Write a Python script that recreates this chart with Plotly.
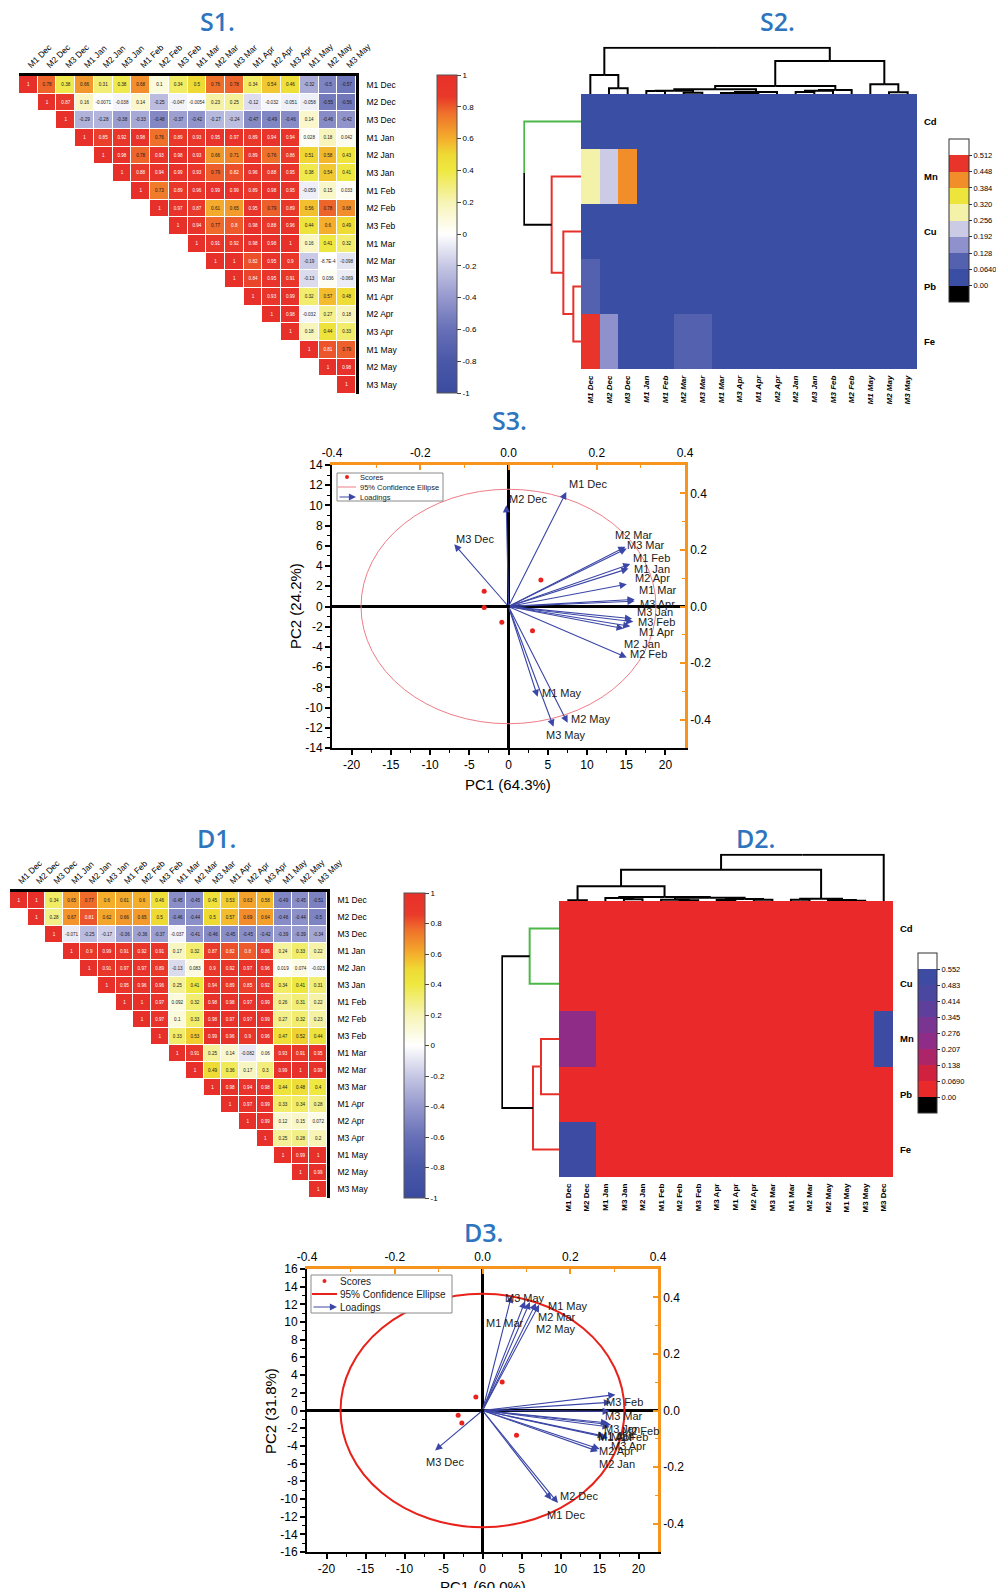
import plotly.graph_objects as go

W, H = 1004, 1596          # browser window
OFF = 8                    # default page (body) margin around the plot div
FW, FH = W - 2 * OFF, H - 2 * OFF
FONT = "Arial, Liberation Sans, sans-serif"
TFONT = "Open Sans, Lato, sans-serif"

# ======================= DATA =======================
months = ["M1 Dec", "M2 Dec", "M3 Dec", "M1 Jan", "M2 Jan", "M3 Jan", "M1 Feb", "M2 Feb", "M3 Feb",
          "M1 Mar", "M2 Mar", "M3 Mar", "M1 Apr", "M2 Apr", "M3 Apr", "M1 May", "M2 May", "M3 May"]

# upper-triangle rows (row i starts at column i)
s1_corr_rows = [
    [1, 0.78, 0.38, 0.66, 0.31, 0.38, 0.68, 0.1, 0.34, 0.5, 0.76, 0.78, 0.34, 0.54, 0.46, -0.32, -0.5, -0.57],
    [1, 0.87, 0.16, -0.0071, -0.038, 0.14, -0.25, -0.047, -0.0054, 0.23, 0.25, -0.12, -0.032, -0.051, -0.058, -0.55, -0.56],
    [1, -0.29, -0.28, -0.38, -0.33, -0.48, -0.37, -0.42, -0.27, -0.24, -0.47, -0.49, -0.46, 0.14, -0.46, -0.42],
    [1, 0.85, 0.92, 0.98, 0.76, 0.89, 0.93, 0.95, 0.97, 0.89, 0.94, 0.94, 0.028, 0.18, 0.042],
    [1, 0.98, 0.78, 0.93, 0.98, 0.93, 0.66, 0.71, 0.89, 0.76, 0.86, 0.51, 0.58, 0.43],
    [1, 0.88, 0.94, 0.99, 0.93, 0.79, 0.82, 0.96, 0.88, 0.95, 0.38, 0.54, 0.41],
    [1, 0.73, 0.89, 0.96, 0.99, 0.99, 0.89, 0.98, 0.95, -0.059, 0.15, 0.033],
    [1, 0.97, 0.87, 0.61, 0.65, 0.95, 0.79, 0.89, 0.56, 0.78, 0.68],
    [1, 0.94, 0.77, 0.8, 0.98, 0.88, 0.96, 0.44, 0.6, 0.49],
    [1, 0.91, 0.92, 0.98, 0.98, 1, 0.16, 0.41, 0.32],
    [1, 1, 0.82, 0.95, 0.9, -0.19, -0.00087, -0.098],
    [1, 0.84, 0.95, 0.91, -0.13, 0.036, -0.069],
    [1, 0.93, 0.99, 0.32, 0.57, 0.48],
    [1, 0.98, -0.032, 0.27, 0.18],
    [1, 0.18, 0.44, 0.33],
    [1, 0.81, 0.79],
    [1, 0.98],
    [1],
]

d1_corr_rows = [
    [1, 1, 0.34, 0.65, 0.77, 0.6, 0.61, 0.6, 0.46, -0.45, -0.45, 0.45, 0.53, 0.63, 0.58, -0.49, -0.45, -0.51],
    [1, 0.28, 0.67, 0.81, 0.62, 0.66, 0.65, 0.5, -0.46, -0.44, 0.5, 0.57, 0.69, 0.64, -0.46, -0.44, -0.5],
    [1, -0.071, -0.25, -0.17, -0.36, -0.36, -0.37, -0.037, -0.41, -0.46, -0.45, -0.45, -0.42, -0.39, -0.39, -0.34],
    [1, 0.9, 0.99, 0.91, 0.92, 0.91, 0.17, 0.32, 0.87, 0.82, 0.8, 0.86, 0.24, 0.33, 0.22],
    [1, 0.91, 0.97, 0.97, 0.89, -0.13, 0.083, 0.9, 0.92, 0.97, 0.96, 0.019, 0.074, -0.023],
    [1, 0.95, 0.96, 0.96, 0.25, 0.41, 0.94, 0.89, 0.85, 0.92, 0.34, 0.41, 0.31],
    [1, 1, 0.97, 0.092, 0.32, 0.98, 0.98, 0.97, 0.99, 0.26, 0.31, 0.22],
    [1, 0.97, 0.1, 0.33, 0.98, 0.97, 0.97, 0.99, 0.27, 0.32, 0.23],
    [1, 0.33, 0.53, 0.99, 0.96, 0.9, 0.96, 0.47, 0.52, 0.44],
    [1, 0.91, 0.25, 0.14, -0.082, 0.06, 0.93, 0.91, 0.95],
    [1, 0.49, 0.36, 0.17, 0.3, 0.99, 1, 0.99],
    [1, 0.98, 0.94, 0.98, 0.44, 0.48, 0.4],
    [1, 0.97, 0.99, 0.33, 0.34, 0.28],
    [1, 0.99, 0.12, 0.15, 0.072],
    [1, 0.25, 0.28, 0.2],
    [1, 0.99, 1],
    [1, 0.99],
    [1],
]
corr_ticks = [-1, -0.8, -0.6, -0.4, -0.2, 0, 0.2, 0.4, 0.6, 0.8, 1]

# ---- S2 cluster heatmap ----
s2_metals = ["Cd", "Mn", "Cu", "Pb", "Fe"]
s2_cols = ["M1 Dec", "M2 Dec", "M3 Dec", "M1 Jan", "M1 Feb", "M2 Mar", "M3 Mar", "M1 Mar", "M3 Apr",
           "M1 Apr", "M2 Apr", "M2 Jan", "M3 Jan", "M3 Feb", "M2 Feb", "M1 May", "M2 May", "M3 May"]
s2_Cd = [0.02, 0.02, 0.02, 0.02, 0.02, 0.02, 0.02, 0.02, 0.02, 0.02, 0.02, 0.02, 0.02, 0.02, 0.02, 0.02, 0.02, 0.02]
s2_Mn = [0.29, 0.22, 0.42, 0.03, 0.03, 0.03, 0.03, 0.03, 0.03, 0.03, 0.03, 0.03, 0.03, 0.03, 0.03, 0.03, 0.03, 0.03]
s2_Cu = [0.03, 0.03, 0.03, 0.03, 0.03, 0.03, 0.03, 0.03, 0.03, 0.03, 0.03, 0.03, 0.03, 0.03, 0.03, 0.03, 0.03, 0.03]
s2_Pb = [0.07, 0.03, 0.03, 0.03, 0.03, 0.03, 0.03, 0.03, 0.03, 0.03, 0.03, 0.03, 0.03, 0.03, 0.03, 0.03, 0.03, 0.03]
s2_Fe = [0.48, 0.16, 0.03, 0.03, 0.03, 0.07, 0.07, 0.03, 0.03, 0.03, 0.03, 0.03, 0.03, 0.03, 0.03, 0.03, 0.03, 0.03]
s2_step = 0.064
# linkage trees: (height, left, right)
s2_col_tree = (139, (57, "M1 Dec", (17, "M2 Dec", "M3 Dec")),
               (99, (24, (14, (10, (9, "M1 Jan", "M1 Feb"), (4, "M2 Mar", "M3 Mar")),
                          (6, (3, "M1 Mar", (2, "M3 Apr", "M1 Apr")), "M2 Apr")),
                     (12, (10, (6, "M2 Jan", "M3 Jan"), "M3 Feb"), "M2 Feb")),
                (29, "M1 May", (5, "M2 May", "M3 May"))))
s2_row_tree = (171, "Cd", (88, "Mn", (53, "Cu", (23, "Pb", "Fe"))))

# ---- D2 cluster heatmap ----
d2_metals = ["Cd", "Cu", "Mn", "Pb", "Fe"]
d2_cols = ["M1 Dec", "M2 Dec", "M1 Jan", "M3 Jan", "M2 Jan", "M1 Feb", "M2 Feb", "M3 Feb", "M3 Apr",
           "M1 Apr", "M2 Apr", "M3 Mar", "M1 Mar", "M2 Mar", "M2 May", "M1 May", "M3 May", "M3 Dec"]
d2_Cd = [0.03, 0.03, 0.03, 0.03, 0.03, 0.03, 0.03, 0.03, 0.03, 0.03, 0.03, 0.03, 0.03, 0.03, 0.03, 0.03, 0.03, 0.03]
d2_Cu = [0.03, 0.03, 0.03, 0.03, 0.03, 0.03, 0.03, 0.03, 0.03, 0.03, 0.03, 0.03, 0.03, 0.03, 0.03, 0.03, 0.03, 0.03]
d2_Mn = [0.24, 0.24, 0.03, 0.03, 0.03, 0.03, 0.03, 0.03, 0.03, 0.03, 0.03, 0.03, 0.03, 0.03, 0.03, 0.03, 0.03, 0.52]
d2_Pb = [0.03, 0.03, 0.03, 0.03, 0.03, 0.03, 0.03, 0.03, 0.03, 0.03, 0.03, 0.03, 0.03, 0.03, 0.03, 0.03, 0.03, 0.03]
d2_Fe = [0.52, 0.52, 0.03, 0.03, 0.03, 0.03, 0.03, 0.03, 0.03, 0.03, 0.03, 0.03, 0.03, 0.03, 0.03, 0.03, 0.03, 0.03]
d2_step = 0.069
d2_col_tree = (139, (94, (44, (2, "M1 Dec", "M2 Dec"),
                          (12, (9, "M1 Jan", (5, "M3 Jan", "M2 Jan")),
                               (10, (4, "M1 Feb", (2, "M2 Feb", "M3 Feb")),
                                    (6, (3, "M3 Apr", "M1 Apr"), (4, "M2 Apr", "M3 Mar"))))),
                     (7, (4, "M1 Mar", "M2 Mar"), (3, "M2 May", (1, "M1 May", "M3 May")))),
               "M3 Dec")
d2_row_tree = (171, (88, "Cd", "Cu"), (78, (54, "Mn", "Pb"), "Fe"))

# ---- S3 PCA biplot ----
s3_names = ["M1 Dec", "M2 Dec", "M3 Dec", "M2 Mar", "M3 Mar", "M1 Feb", "M1 Jan", "M2 Apr", "M1 Mar",
            "M3 Apr", "M3 Jan", "M3 Feb", "M1 Apr", "M2 Jan", "M2 Feb", "M1 May", "M2 May", "M3 May"]
s3_load_pc1 = [0.131, -0.005, -0.123, 0.265, 0.268, 0.276, 0.272, 0.268, 0.286,
               0.286, 0.280, 0.283, 0.276, 0.261, 0.268, 0.066, 0.134, 0.102]
s3_load_pc2 = [0.405, 0.358, 0.220, 0.211, 0.205, 0.150, 0.134, 0.079, 0.025,
               0.019, -0.043, -0.054, -0.070, -0.078, -0.180, -0.319, -0.411, -0.425]
s3_score_pc1 = [4.13, -3.1, -3.1, -0.85, 3.06]
s3_score_pc2 = [2.61, 1.52, -0.1, -1.55, -2.41]
s3_ellipse = (18.8, 11.6)   # semi-axes (PC1, PC2)

# ---- D3 PCA biplot ----
d3_names = ["M1 Dec", "M2 Dec", "M3 Dec", "M1 Jan", "M2 Jan", "M3 Jan", "M1 Feb", "M2 Feb", "M3 Feb",
            "M1 Mar", "M2 Mar", "M3 Mar", "M1 Apr", "M2 Apr", "M3 Apr", "M1 May", "M2 May", "M3 May"]
d3_load_pc1 = [0.172, 0.157, -0.108, 0.290, 0.263, 0.286, 0.290, 0.293, 0.303,
               0.066, 0.108, 0.293, 0.279, 0.267, 0.286, 0.122, 0.129, 0.097]
d3_load_pc2 = [-0.327, -0.315, -0.141, -0.003, -0.144, -0.044, -0.058, -0.050, 0.056,
               0.406, 0.383, 0.029, -0.091, -0.136, -0.097, 0.380, 0.374, 0.386]
d3_score_pc1 = [2.52, -0.85, -3.12, -2.65, 4.36]
d3_score_pc2 = [3.22, 1.53, -0.55, -1.41, -2.81]
d3_ellipse = (18.2, 13.2)

# ======================= STYLE =======================
RED, GREEN, BLUE_ARROW, ORANGE = "#E8302A", "#4DB848", "#3B46A6", "#F7941D"
TITLE_BLUE = "#2E75BE"
CORR_SCALE = [[0.0, "#3A4B9F"], [0.1, "#4A58A8"], [0.2, "#6770B7"], [0.3, "#9598CD"], [0.4, "#C6C7E4"],
              [0.5, "#FFFFFF"], [0.6, "#F7F4B5"], [0.7, "#EEE841"], [0.75, "#EFDA34"], [0.8, "#F4AE2C"],
              [0.88, "#EF702B"], [0.93, "#E93A2A"], [1.0, "#E8302A"]]
S2_BLOCKS = ["#000000", "#3A4FA3", "#5461AF", "#8E91CB", "#CBCBE6", "#F4F1A9", "#EEE53C", "#F28E2A", "#E8342A", "#FFFFFF"]
D2_BLOCKS = ["#000000", "#E9292A", "#D0213F", "#AC2568", "#8F2C87", "#7A3592", "#5E3F9B", "#4A47A0", "#3D4BA3", "#FFFFFF"]


# window-pixel -> paper coordinates (the plot div sits OFF px inside the page)
def px(x):
    return (x - OFF) / FW


def py(y):
    return 1 - (y - OFF) / FH


def xdom(a, b):
    return [px(a), px(b)]


def ydom(top, bottom):
    return [py(bottom), py(top)]


fig = go.Figure()
LAY = {}
ANN = []
SHP = []


def fmt_corr(v):
    if v == 1:
        return "1"
    if abs(v) < 0.001:
        mant, ex = f"{v:.1E}".split("E")
        return f"{mant}E{int(ex)}"
    return f"{v:.2g}"


def axkey(a):
    return ("xaxis" if a[0] == "x" else "yaxis") + a[1:]


def corr_panel(rows, xa, ya, box, cb):
    n = len(months)
    z = [[None] * n for _ in range(n)]
    tx, ty, tt, tc = [], [], [], []
    for i, row in enumerate(rows):
        for k, v in enumerate(row):
            j = i + k
            z[i][j] = v
            tx.append(j)
            ty.append(i)
            tt.append(fmt_corr(v))
            tc.append("white" if v >= 0.8 else "#1a1a1a")
    cbx, cbtop, cblen, cbth = cb
    fig.add_trace(go.Heatmap(
        z=z, x=list(range(n)), y=list(range(n)), xaxis=xa, yaxis=ya,
        colorscale=CORR_SCALE, zmin=-1, zmax=1, xgap=1, ygap=1, hoverinfo="skip",
        colorbar=dict(x=px(cbx), xanchor="left", y=py(cbtop), yanchor="top", len=cblen, lenmode="pixels",
                      thickness=cbth, thicknessmode="pixels", xpad=0, ypad=0, outlinewidth=1,
                      outlinecolor="#555", tickvals=corr_ticks, ticktext=[f"{v:g}" for v in corr_ticks],
                      ticks="outside", ticklen=4, tickcolor="#444", tickfont=dict(size=8, family=FONT))))
    fig.add_trace(go.Scatter(x=tx, y=ty, text=tt, mode="text", xaxis=xa, yaxis=ya, hoverinfo="skip",
                             textfont=dict(size=4.6, color=tc, family=FONT)))
    x0, x1, y0, y1 = box
    LAY[axkey(xa)] = dict(domain=xdom(x0, x1), anchor=ya, range=[-0.5, n - 0.5], side="top",
                          tickvals=list(range(n)), ticktext=months, tickangle=-45, ticks="",
                          tickfont=dict(size=8.5, family=FONT), showline=True, linecolor="black",
                          linewidth=2.5, showgrid=False, zeroline=False)
    LAY[axkey(ya)] = dict(domain=ydom(y0, y1), anchor=xa, range=[n - 0.5, -0.5], side="right",
                          tickvals=list(range(n)), ticktext=months, ticks="", ticklabelstandoff=6,
                          tickfont=dict(size=8.5, family=FONT), showline=True, linecolor="black",
                          linewidth=2.5, showgrid=False, zeroline=False)


def leaves(node):
    if isinstance(node, str):
        return [node]
    return leaves(node[1]) + leaves(node[2])


def dendro(tree, orient, xa, ya, cluster_colors, leaf_colors, width=2):
    order = leaves(tree)
    pos = {nm: i for i, nm in enumerate(order)}
    segs = {}

    def walk(node, ctx):
        if isinstance(node, str):
            return pos[node], 0.0
        h, l, r = node
        c = cluster_colors.get(tuple(leaves(node)), ctx)
        pl, hl = walk(l, c)
        pr, hr = walk(r, c)
        pm = (pl + pr) / 2
        for child, p, hc in ((l, pl, hl), (r, pr, hr)):
            if c:
                col = c
            elif isinstance(child, str) and child in leaf_colors:
                col = leaf_colors[child]
            else:
                col = "black"
            segs.setdefault(col, []).extend([(p, hc), (p, h), (pm, h), None])
        return pm, h

    walk(tree, None)
    for col, pts in segs.items():
        xs, ys = [], []
        for pt in pts:
            if pt is None:
                xs.append(None)
                ys.append(None)
            elif orient == "top":
                xs.append(pt[0]); ys.append(pt[1])
            else:
                xs.append(pt[1]); ys.append(pt[0])
        fig.add_trace(go.Scatter(x=xs, y=ys, mode="lines", line=dict(color=col, width=width),
                                 xaxis=xa, yaxis=ya, hoverinfo="skip"))
    return order


def cluster_panel(metals, cols, rows_vals, step, blocks, col_tree, row_tree, row_clusters, leaf_colors,
                  ax, box, cb, col_font):
    hx, hy, tx_, ty_, lx_, ly_ = ax
    x0, x1, y0, y1 = box
    assert leaves(col_tree) == cols and leaves(row_tree) == metals
    nb = len(blocks)
    scale = []
    for i, c in enumerate(blocks):
        scale.append([i / nb, c])
        scale.append([(i + 1) / nb, c])
    tickv = [step * k for k in range(nb - 1)]
    tickt = ["0.00" if k == 0 else (f"{step * k:.4f}" if k == 1 else f"{step * k:.3f}") for k in range(nb - 1)]
    cbx, cbtop, cblen, cbth = cb
    fig.add_trace(go.Heatmap(
        z=rows_vals, x=list(range(len(cols))), y=list(range(len(metals))), xaxis=hx, yaxis=hy,
        colorscale=scale, zmin=-step, zmax=step * (nb - 1), hoverinfo="skip",
        colorbar=dict(x=px(cbx), xanchor="left", y=py(cbtop), yanchor="top", len=cblen, lenmode="pixels",
                      thickness=cbth, thicknessmode="pixels", xpad=0, ypad=0, outlinewidth=1,
                      outlinecolor="#333", tickvals=tickv, ticktext=tickt, ticks="outside", ticklen=3,
                      tickcolor="#333", tickfont=dict(size=7.5, family=FONT))))
    n = len(cols)
    m = len(metals)
    LAY[axkey(hx)] = dict(domain=xdom(x0, x1), anchor=hy, range=[-0.5, n - 0.5], tickvals=list(range(n)),
                          ticktext=cols, tickangle=-90, ticks="", ticklabelstandoff=4, tickfont=col_font,
                          showline=False, showgrid=False, zeroline=False)
    LAY[axkey(hy)] = dict(domain=ydom(y0, y1), anchor=hx, range=[m - 0.5, -0.5], side="right",
                          tickvals=list(range(m)), ticktext=metals, ticks="", ticklabelstandoff=6,
                          tickfont=dict(size=9.5, family=FONT, weight="bold"),
                          showline=False, showgrid=False, zeroline=False)
    # top dendrogram: 1 height unit = 1/3 px
    hmax = 142
    LAY[axkey(tx_)] = dict(domain=xdom(x0, x1), anchor=ty_, range=[-0.5, n - 0.5], visible=False)
    LAY[axkey(ty_)] = dict(domain=ydom(y0 - hmax / 3, y0), anchor=tx_, range=[0, hmax], visible=False)
    dendro(col_tree, "top", tx_, ty_, {}, {})
    wmax = 173
    LAY[axkey(lx_)] = dict(domain=xdom(x0 - wmax / 3, x0), anchor=ly_, range=[wmax, 0], visible=False)
    LAY[axkey(ly_)] = dict(domain=ydom(y0, y1), anchor=lx_, range=[m - 0.5, -0.5], visible=False)
    dendro(row_tree, "left", lx_, ly_, row_clusters, leaf_colors)


def tick_txt(vals, fmt):
    return [fmt.format(v) for v in vals]


def biplot(k1, k2, box, ymax, names, lpc1, lpc2, spc1, spc2, ell, ell_col, ell_w, place, label_size,
           xtitle, ytitle, title_pos, legend):
    x0, x1, y0, y1 = box
    xa, ya, xb, yb = f"x{k1}", f"y{k1}", f"x{k2}", f"y{k2}"
    maj_x = [-20, -15, -10, -5, 0, 5, 10, 15, 20]
    min_x = [-17.5, -12.5, -7.5, -2.5, 2.5, 7.5, 12.5, 17.5]
    maj_y = list(range(-ymax, ymax + 1, 2))
    min_y = list(range(-ymax + 1, ymax, 2))
    lt = [-0.4, -0.2, 0.0, 0.2, 0.4]
    lmin = [-0.3, -0.1, 0.1, 0.3]
    tf = dict(size=12, family=FONT, color="black")
    LAY[axkey(xa)] = dict(domain=xdom(x0, x1), anchor=ya, range=[-22.5, 22.5], tickvals=maj_x,
                          ticktext=tick_txt(maj_x, "{:d}"), ticks="outside", ticklen=5, tickwidth=1.5,
                          tickcolor="black", minor=dict(tickvals=min_x, ticks="outside", ticklen=3,
                                                        tickcolor="black", tickwidth=1),
                          showline=True, linecolor="black", linewidth=2, zeroline=True, zerolinecolor="black",
                          zerolinewidth=2.5, showgrid=False, tickfont=tf)
    LAY[axkey(ya)] = dict(domain=ydom(y0, y1), anchor=xa, range=[-ymax, ymax], tickvals=maj_y,
                          ticktext=tick_txt(maj_y, "{:d}"), ticks="outside", ticklen=5, tickwidth=1.5,
                          tickcolor="black", minor=dict(tickvals=min_y, ticks="outside", ticklen=3,
                                                        tickcolor="black", tickwidth=1),
                          showline=True, linecolor="black", linewidth=2, zeroline=True, zerolinecolor="black",
                          zerolinewidth=2.5, showgrid=False, tickfont=tf)
    LAY[axkey(xb)] = dict(overlaying=xa, side="top", anchor=yb, range=[-0.4, 0.4], tickvals=lt,
                          ticktext=tick_txt(lt, "{:.1f}"), ticks="inside", ticklen=5, tickwidth=1.5,
                          tickcolor=ORANGE, minor=dict(tickvals=lmin, ticks="inside", ticklen=3,
                                                       tickcolor=ORANGE, tickwidth=1),
                          showline=True, linecolor=ORANGE, linewidth=2.5, zeroline=False, showgrid=False,
                          tickfont=tf)
    LAY[axkey(yb)] = dict(overlaying=ya, side="right", anchor=xb, range=[-0.5, 0.5], tickvals=lt,
                          ticktext=tick_txt(lt, "{:.1f}"), ticks="inside", ticklen=5, tickwidth=1.5,
                          tickcolor=ORANGE, minor=dict(tickvals=lmin, ticks="inside", ticklen=3,
                                                       tickcolor=ORANGE, tickwidth=1),
                          showline=True, linecolor=ORANGE, linewidth=2.5, zeroline=False, showgrid=False,
                          tickfont=tf)
    # ellipse
    a, b = ell
    SHP.append(dict(type="circle", xref=xa, yref=ya, x0=-a, x1=a, y0=-b, y1=b,
                    line=dict(color=ell_col, width=ell_w), layer="above"))
    # scores
    fig.add_trace(go.Scatter(x=spc1, y=spc2, mode="markers", xaxis=xa, yaxis=ya, hoverinfo="skip",
                             marker=dict(color="#E8221C", size=5), cliponaxis=False))
    # loadings (invisible anchor trace for the secondary axes)
    fig.add_trace(go.Scatter(x=lpc1, y=lpc2, mode="markers", xaxis=xb, yaxis=yb, hoverinfo="skip",
                             marker=dict(opacity=0, size=1)))
    for nm, lx, ly in zip(names, lpc1, lpc2):
        ANN.append(dict(x=lx, y=ly, xref=xb, yref=yb, ax=0, ay=0, axref=xb, ayref=yb, text="",
                        showarrow=True, arrowhead=2, arrowsize=1.3, arrowwidth=1.1,
                        arrowcolor=BLUE_ARROW, standoff=0))
    for nm, lx, ly in zip(names, lpc1, lpc2):
        dx, dy = place[nm]
        ANN.append(dict(x=lx, y=ly, xref=xb, yref=yb, text=nm, showarrow=False, xanchor="left",
                        yanchor="middle", xshift=dx, yshift=dy,
                        font=dict(size=label_size, family=FONT, color="#1a1a1a")))
    # axis titles
    (xtx, xty), (ytx, yty) = title_pos
    ANN.append(dict(x=px(xtx), y=py(xty), xref="paper", yref="paper", text=xtitle, showarrow=False,
                    font=dict(size=15, family=FONT), xanchor="center", yanchor="middle"))
    ANN.append(dict(x=px(ytx), y=py(yty), xref="paper", yref="paper", text=ytitle, showarrow=False,
                    textangle=-90, font=dict(size=15, family=FONT), xanchor="center", yanchor="middle"))
    # legend box
    bx0, by0, bx1, by1, rows_y, sym_x0, sym_x1, text_x, fsz, ell_leg_w = legend
    SHP.append(dict(type="rect", xref="paper", yref="paper", x0=px(bx0), x1=px(bx1), y0=py(by1), y1=py(by0),
                    line=dict(color="#8a8a8a", width=1), fillcolor="white", layer="above"))
    r1, r2, r3 = rows_y
    cx = (sym_x0 + sym_x1) / 2
    SHP.append(dict(type="circle", xref="paper", yref="paper", x0=px(cx - 2), x1=px(cx + 2),
                    y0=py(r1 + 2), y1=py(r1 - 2), fillcolor="#E8221C", line=dict(width=0), layer="above"))
    SHP.append(dict(type="line", xref="paper", yref="paper", x0=px(sym_x0), x1=px(sym_x1),
                    y0=py(r2), y1=py(r2), line=dict(color=ell_col, width=ell_leg_w), layer="above"))
    ANN.append(dict(x=px(sym_x1), y=py(r3), xref="paper", yref="paper", ax=-(sym_x1 - sym_x0), ay=0,
                    text="", showarrow=True, arrowhead=2, arrowsize=1.3, arrowwidth=1.1,
                    arrowcolor=BLUE_ARROW, standoff=0))
    for t, ry in zip(["Scores", "95% Confidence Ellipse", "Loadings"], rows_y):
        ANN.append(dict(x=px(text_x), y=py(ry), xref="paper", yref="paper", text=t, showarrow=False,
                        xanchor="left", yanchor="middle", font=dict(size=fsz, family=FONT, color="#1a1a1a")))


# ======================= BUILD =======================
corr_panel(s1_corr_rows, "x", "y", (19, 356, 76, 394), (437, 75, 318, 20))
corr_panel(d1_corr_rows, "x2", "y2", (10, 327, 892, 1198), (404, 893, 305, 21))

cluster_panel(s2_metals, s2_cols, [s2_Cd, s2_Mn, s2_Cu, s2_Pb, s2_Fe], s2_step, S2_BLOCKS,
              s2_col_tree, s2_row_tree, {("Mn", "Cu", "Pb", "Fe"): RED}, {"Cd": GREEN},
              ("x3", "y3", "x4", "y4", "x5", "y5"), (581, 917, 94, 369), (949, 139, 163, 20),
              dict(size=8, family=FONT, weight="bold", style="italic"))
cluster_panel(d2_metals, d2_cols, [d2_Cd, d2_Cu, d2_Mn, d2_Pb, d2_Fe], d2_step, D2_BLOCKS,
              d2_col_tree, d2_row_tree, {("Cd", "Cu"): GREEN, ("Mn", "Pb", "Fe"): RED}, {},
              ("x6", "y6", "x7", "y7", "x8", "y8"), (559, 893, 901, 1177), (918, 953, 160, 19),
              dict(size=8, family=FONT, weight="bold"))

s3_place = {"M1 Dec": (1, 8), "M2 Dec": (1, 6), "M3 Dec": (0, 5), "M2 Mar": (-12, 12), "M3 Mar": (-2, 3),
            "M1 Feb": (1, 6), "M1 Jan": (3, 0), "M2 Apr": (6, 6), "M1 Mar": (2, 9), "M3 Apr": (3, -3),
            "M3 Jan": (3, 7), "M3 Feb": (3, 0), "M1 Apr": (7, -6), "M2 Jan": (-2, -15), "M2 Feb": (1, 3),
            "M1 May": (2, 4), "M2 May": (1, 4), "M3 May": (-10, -8)}
d3_place = {"M3 May": (-22, 3), "M1 May": (10, -3), "M1 Mar": (-27, -27), "M2 Mar": (6, -15),
            "M2 May": (-5, -24), "M3 Feb": (-11, -7), "M3 Mar": (-8, -14), "M3 Jan": (-6, -6),
            "M2 Feb": (9, -6), "M1 Feb": (-1, -10), "M1 Apr": (-9, -1), "M1 Jan": (-14, -25),
            "M3 Apr": (1, -8), "M2 Apr": (-3, -2), "M2 Jan": (-1, -13), "M2 Dec": (7, 4),
            "M1 Dec": (-13, -12), "M3 Dec": (-11, -12)}

biplot(9, 10, (332, 685, 465, 748), 14, s3_names, s3_load_pc1, s3_load_pc2, s3_score_pc1, s3_score_pc2,
       s3_ellipse, "#EE7C88", 1, s3_place, 11, "PC1 (64.3%)", "PC2 (24.2%)",
       ((508, 785), (295, 606)),
       (337, 473, 443, 501, (477, 487, 497), 338, 356, 358, 7.5, 1))
biplot(11, 12, (307, 658, 1269, 1552), 16, d3_names, d3_load_pc1, d3_load_pc2, d3_score_pc1, d3_score_pc2,
       d3_ellipse, "#E8211B", 2, d3_place, 11, "PC1 (60.0%)", "PC2 (31.8%)",
       ((483, 1586), (270, 1411)),
       (311, 1275, 452, 1313, (1281, 1294, 1307), 312, 337, 338, 10, 2))

for t, x, y in [("S1.", 217, 21), ("S2.", 777, 21), ("S3.", 510, 420),
                ("D1.", 216, 838), ("D2.", 755, 838), ("D3.", 483, 1232)]:
    ANN.append(dict(x=px(x), y=py(y), xref="paper", yref="paper", text=t, showarrow=False,
                    xanchor="center", yanchor="middle",
                    font=dict(size=25, family=TFONT, color=TITLE_BLUE, weight=600)))

fig.update_layout(width=FW, height=FH, margin=dict(l=0, r=0, t=0, b=0, pad=0, autoexpand=False),
                  paper_bgcolor="white", plot_bgcolor="rgba(0,0,0,0)", showlegend=False,
                  font=dict(family=FONT, color="black", size=10), annotations=ANN, shapes=SHP, **LAY)
fig.write_html("out.html", config={"responsive": False})
